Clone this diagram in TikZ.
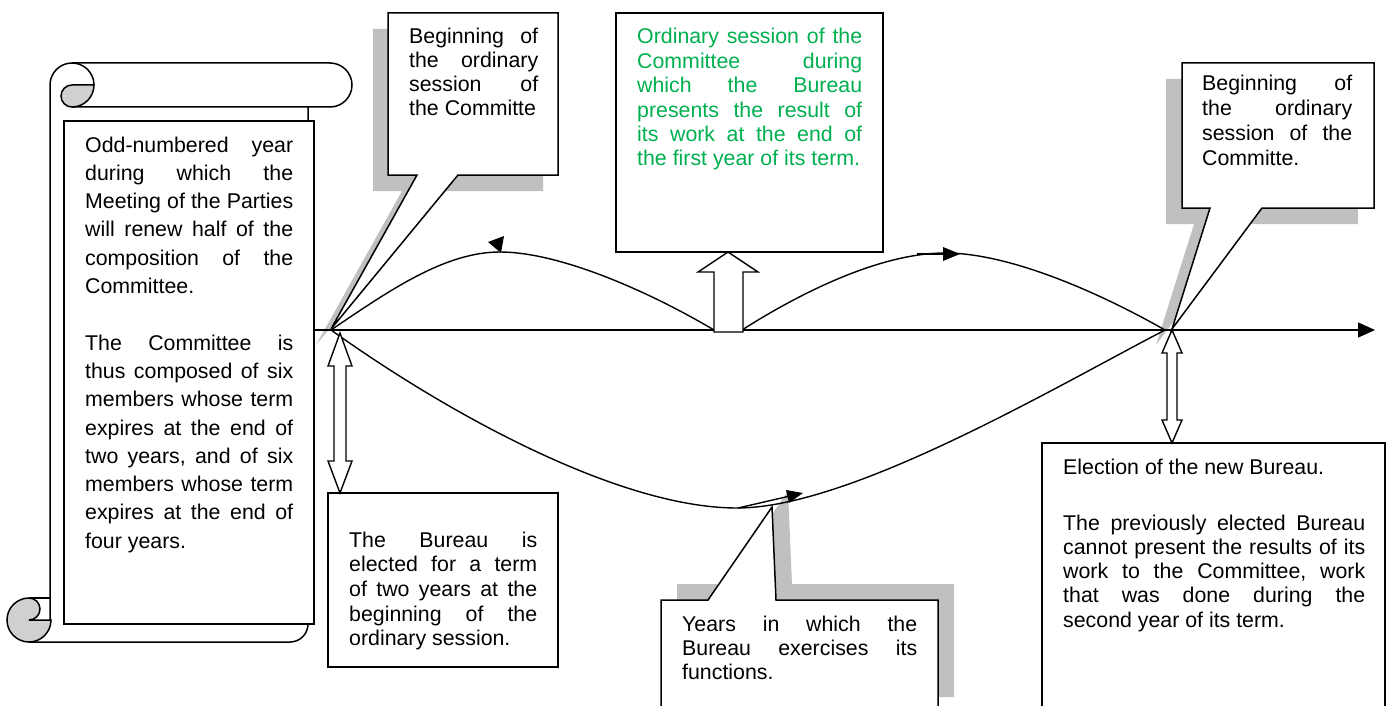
\documentclass[tikz,border=0pt]{standalone}
\usepackage{fontspec}
\setmainfont{Liberation Sans}
\usetikzlibrary{arrows.meta}
\definecolor{shgray}{HTML}{C0C0C0}
\definecolor{curlgray}{HTML}{D0D0D0}
\definecolor{greentext}{HTML}{00B050}
\newcommand\jline[1]{\hbox to \hsize{#1}}
\newcommand\lline[1]{\hbox{#1}}
\newcommand\tblock[3]{\vtop{\hsize=#1\relax\spaceskip=0.278em plus 1fil\relax
  \xspaceskip=\spaceskip\baselineskip=#2\relax\lineskiplimit=-50pt\relax #3}}
\begin{document}
\begin{tikzpicture}[x=1pt,y=-1pt,
  ln/.style={line width=1.5pt, line join=miter},
  cv/.style={line width=1.4pt},
  shadowfill/.style={fill=shgray, draw=none},
  boxln/.style={line width=1.5pt, draw=black, fill=white, line join=miter},
  blockarrow/.style={line width=1.4pt, draw=black, fill=white, line join=miter},
  txt/.style={anchor=base west, inner sep=0pt, font=\fontsize{21.33}{24}\selectfont\frenchspacing}
]
\useasboundingbox (0,0) rectangle (1386,706);
\clip (0,0) rectangle (1386,706);

% ---------- scroll ----------
\draw[ln] (50,620) -- (50,85) arc[start angle=180, end angle=270, radius=22]
  -- (330,63) arc[start angle=270, end angle=450, radius=22] -- (72,107);
\draw[ln] (72,63) arc[start angle=270, end angle=360, radius=22];
\draw[ln, fill=curlgray] (94,85) -- (72,85) arc[start angle=270, end angle=90, radius=11]
  arc[start angle=90, end angle=0, radius=22] -- cycle;
\draw[ln] (308,107) -- (308,624) arc[start angle=0, end angle=90, radius=18] -- (29,642);
\draw[ln, fill=curlgray] (51,620) arc[start angle=0, end angle=270, radius=22]
  arc[start angle=-90, end angle=90, radius=11] -- cycle;
\draw[ln] (29,598) -- (50,598);
\draw[boxln] (64,121) rectangle (314,624);

% ---------- shadows ----------
\fill[shadowfill] (373,29) -- (543,29) -- (543,191) -- (443,191) -- (316,345) -- (402,191) -- (373,191) -- cycle;
\fill[shadowfill] (1166,79) -- (1358,79) -- (1358,224) -- (1246,224) -- (1156,345) -- (1194,224) -- (1166,224) -- cycle;
\fill[shadowfill] (677,584) -- (724,584) -- (788,491) -- (792,584) -- (954,584) -- (954,697) -- (677,697) -- cycle;

% ---------- callouts and boxes ----------
\draw[boxln] (388,13) -- (558,13) -- (558,175) -- (458,175) -- (331,329) -- (417,175) -- (388,175) -- cycle;
\draw[boxln] (1182,63) -- (1374,63) -- (1374,208) -- (1262,208) -- (1172,329) -- (1210,208) -- (1182,208) -- cycle;
\draw[boxln] (661,720) -- (661,600) -- (708,600) -- (772,507) -- (776,600) -- (938,600) -- (938,720);
\draw[boxln] (616,13) rectangle (883,252);
\draw[boxln] (328,493) rectangle (558,667);
\draw[boxln] (1042,720) -- (1042,443) -- (1385,443) -- (1385,720);

% ---------- timeline ----------
\coordinate (lineS) at (315,330);
\coordinate (lineE) at (1375,330);
\coordinate (hubL) at (331,330);
\coordinate (hubR) at (1165,330);
\coordinate (top1) at (500,252);
\coordinate (top2) at (945,253);
\coordinate (low) at (737,508);
\coordinate (midL) at (714,330);
\coordinate (midR) at (742,330);

\draw[cv, -{Triangle[length=17pt,width=15pt]}] (lineS) -- (lineE);
\draw[cv] (hubL) .. controls (390,290) and (445,252) .. (top1)
  .. controls (560,252) and (650,292) .. (midL);
\draw[cv] (midR) .. controls (800,293) and (880,253) .. (top2)
  .. controls (1010,253) and (1100,293) .. (hubR);
\draw[cv] (hubL) .. controls (450,415) and (620,508) .. (low)
  .. controls (850,508) and (1050,390) .. (hubR);

% arrowheads on the arcs
\fill (488,242) -- (504,236) -- (501,253) -- cycle;
\draw[cv] (917,254) -- (945,254);
\fill (943,247) -- (960,254) -- (943,261) -- cycle;
\draw[cv] (738,508) -- (790,496);
\fill (786,490) -- (803,493) -- (789,503) -- cycle;

% ---------- block arrows ----------
\draw[blockarrow] (728,252) -- (758,272) -- (743,272) -- (743,332) -- (714,332) -- (714,272) -- (698,272) -- cycle;
\draw[blockarrow] (340,333) -- (352,366) -- (346,366) -- (346,461) -- (352,461) -- (340,493)
  -- (328,461) -- (334,461) -- (334,366) -- (328,366) -- cycle;
\draw[blockarrow] (1172,330) -- (1182,353) -- (1177,353) -- (1177,420) -- (1182,420) -- (1172,443)
  -- (1162,420) -- (1167,420) -- (1167,353) -- (1162,353) -- cycle;

% ---------- texts ----------
\node[txt] (scrolltext) at (85,152) {\tblock{208pt}{28.3pt}{%
\jline{Odd-numbered year}
\jline{during which the}
\jline{Meeting of the Parties}
\jline{will renew half of the}
\jline{composition of the}
\lline{Committee.}
\vskip 28.3pt
\jline{The Committee is}
\jline{thus composed of six}
\jline{members whose term}
\jline{expires at the end of}
\jline{two years, and of six}
\jline{members whose term}
\jline{expires at the end of}
\lline{four years.}}};

\node[txt] (calA) at (409,44) {\tblock{129pt}{24pt}{%
\jline{Beginning of}
\jline{the ordinary}
\jline{session of}
\lline{the Committe}}};

\node[txt, text=greentext] (calB) at (637,44) {\tblock{225pt}{24.4pt}{%
\jline{Ordinary session of the}
\jline{Committee during}
\jline{which the Bureau}
\jline{presents the result of}
\jline{its work at the end of}
\lline{the first year of its term.}}};

\node[txt] (calC) at (1202,91) {\tblock{150pt}{24.7pt}{%
\jline{Beginning of}
\jline{the ordinary}
\jline{session of the}
\lline{Committe.}}};

\node[txt] (boxD) at (349,547) {\tblock{188pt}{24.7pt}{%
\jline{The Bureau is}
\jline{elected for a term}
\jline{of two years at the}
\jline{beginning of the}
\lline{ordinary session.}}};

\node[txt] (calE) at (682,631) {\tblock{235pt}{24pt}{%
\jline{Years in which the}
\jline{Bureau exercises its}
\lline{functions.}}};

\node[txt] (boxF) at (1063,474) {\tblock{302pt}{24.3pt}{%
\lline{Election of the new Bureau.}
\vskip 31.7pt
\jline{The previously elected Bureau}
\jline{cannot present the results of its}
\jline{work to the Committee, work}
\jline{that was done during the}
\lline{second year of its term.}}};
\end{tikzpicture}
\end{document}
